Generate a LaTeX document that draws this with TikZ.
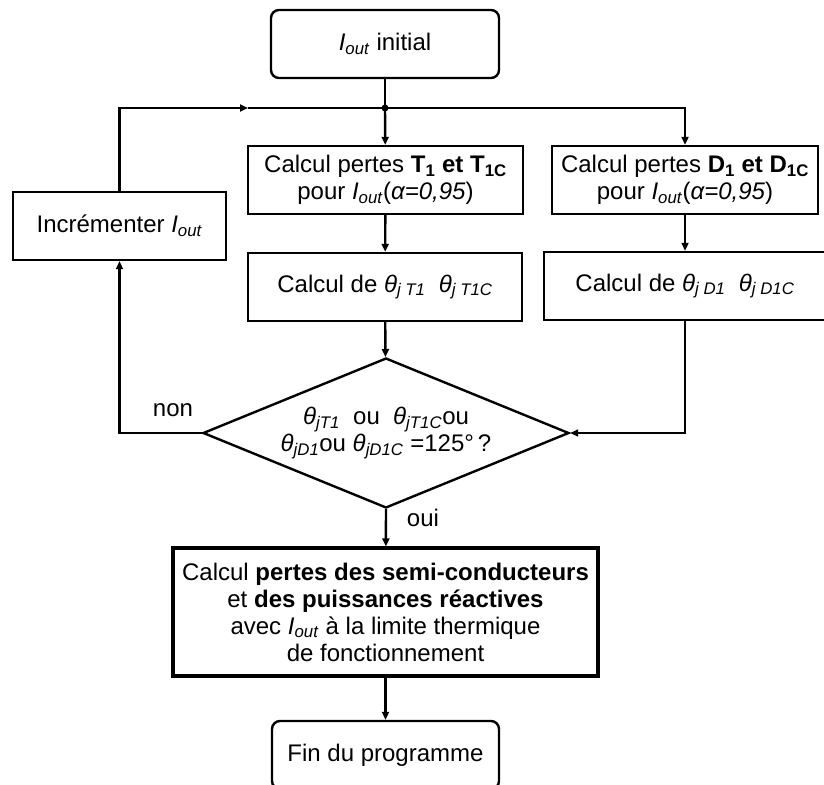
\documentclass[tikz,border=0pt]{standalone}
\usepackage{fontspec}
\setmainfont{Liberation Sans}
\usetikzlibrary{shapes.geometric,arrows.meta}

\newcommand{\iout}{\textit{I}\textsubscript{\textit{out}}}
\newcommand{\thj}[1]{\textit{θ}\textsubscript{\textit{#1}}}

\tikzset{
    procbox/.style={draw, rectangle, inner sep=0pt, minimum height=68pt, minimum width=#1, align=center},
    termbox/.style={procbox=#1, rounded corners=8pt},
    flow/.style={-{Triangle[length=8pt,width=7pt]}},
}

\begin{document}
\begin{tikzpicture}[x=1pt, y=-1pt, line width=2.4pt, font=\fontsize{24}{27}\selectfont]
    \useasboundingbox (0,0) rectangle (824,784);
    \clip (0,0) rectangle (824,784);

    % Start and the two loss columns
    \node[termbox=228pt] (init) at (385,44) {\iout{} initial};
    \coordinate (jn) at (385,108);
    \coordinate (back) at (248,108);

    \node[procbox=275pt] (lossT) at (385.5,180) {Calcul pertes \textbf{T\textsubscript{1} et T\textsubscript{1C}}\\pour \iout(\textit{α=0,95})};
    \node[procbox=266pt] (lossD) at (685,180) {Calcul pertes \textbf{D\textsubscript{1} et D\textsubscript{1C}}\\pour \iout(\textit{α=0,95})};

    \node[procbox=274pt] (thT) at (385,287) {Calcul de \thj{j T1}\ \ \thj{j T1C}};
    \node[procbox=282pt] (thD) at (685,286) {Calcul de \thj{j D1}\ \ \thj{j D1C}};

    \node[procbox=213pt] (incr) at (119.5,226) {Incrémenter \iout};

    % Test on the junction temperature
    \node[draw, diamond, aspect=2.44, inner sep=0pt, minimum width=366pt, minimum height=150pt, align=center] (test) at (386,433)
        {\thj{jT1}\ \ ou\ \ \thj{jT1C}ou\\\thj{jD1}ou \thj{jD1C} =125°\,?};

    \node (non) at (173,410) {non};
    \node (oui) at (423,518) {oui};

    \node[procbox=425pt, minimum height=128pt, line width=3.2pt] (final) at (385.5,612)
        {Calcul \textbf{pertes des semi-conducteurs}\\et \textbf{des puissances réactives}\\avec \iout{} à la limite thermique\\de fonctionnement};
    \node[termbox=227pt] (end) at (385.5,755) {Fin du programme};

    % Connectors
    \draw (init) -- (jn);
    \fill (jn) circle (3.5pt);
    \draw[flow] (jn) -- (lossT);
    \draw[flow] (jn) -| (lossD);
    \draw[flow] (lossT) -- (thT);
    \draw[flow] (lossD) -- (thD);
    \draw[flow] (thT) -- (test);
    \draw[flow] (thD) |- (test.east);
    \draw[flow] (test.west) -| (incr.south);
    \draw[flow] (incr.north) |- (back);
    \draw (back) -- (jn);
    \draw[flow] (test.south) -- (final);
    \draw[flow] (final) -- (end);
\end{tikzpicture}
\end{document}
